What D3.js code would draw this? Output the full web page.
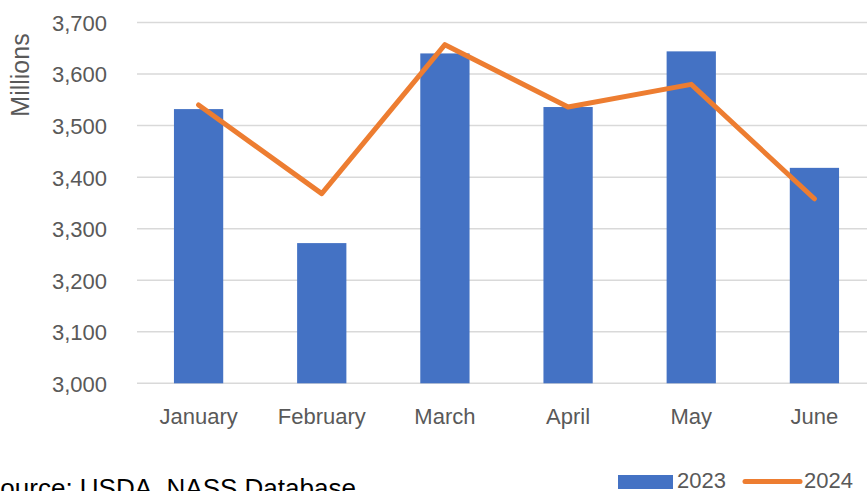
<!DOCTYPE html>
<html><head><meta charset="utf-8">
<script src="https://cdn.jsdelivr.net/npm/d3@7"></script>
<style>html,body{margin:0;padding:0;background:#fff;overflow:hidden}svg{display:block}</style>
</head><body>
<svg id="chart" width="867" height="491"></svg>
<script>
const months = ["January","February","March","April","May","June"];
const values2023 = [3532, 3272, 3640, 3536, 3644, 3418];
const values2024 = [3540, 3368, 3657, 3536, 3580, 3358];
const yTicks = [3000, 3100, 3200, 3300, 3400, 3500, 3600, 3700];
const seriesNames = ["2023", "2024"];
const sourceText = "Source: USDA, NASS Database";
const yTitle = "Millions";

const font = "'Liberation Sans', Arial, sans-serif";
const textColor = "#595959";
const svg = d3.select("#chart");
const plotLeft = 137, plotRight = 876, plotTop = 22.5, plotBottom = 383.3;

const x = d3.scaleBand().domain(months).range([plotLeft, plotRight]).paddingInner(0.6).paddingOuter(0.3);
const y = d3.scaleLinear().domain([3000, 3700]).range([plotBottom, plotTop]);

// gridlines
svg.append("g").selectAll("line").data(yTicks).join("line")
  .attr("x1", plotLeft).attr("x2", 867)
  .attr("y1", d => y(d)).attr("y2", d => y(d))
  .attr("stroke", "#D9D9D9").attr("stroke-width", 1.5);

// y axis labels
const yAxis = d3.axisLeft(y).tickValues(yTicks).tickFormat(d3.format(",")).tickSize(0).tickPadding(0);
const ya = svg.append("g").attr("transform", "translate(107,0)").call(yAxis);
ya.select(".domain").remove();
ya.selectAll("text").attr("font-family", font).attr("font-size", 22).attr("fill", textColor).attr("dy", "0.36em");

// bars
svg.append("g").selectAll("rect").data(values2023).join("rect")
  .attr("x", (d, i) => x(months[i]))
  .attr("width", x.bandwidth())
  .attr("y", d => y(d))
  .attr("height", d => y(3000) - y(d))
  .attr("fill", "#4472C4");

// x axis labels
const xAxis = d3.axisBottom(x).tickSize(0).tickPadding(0);
const xa = svg.append("g").attr("transform", `translate(0,${plotBottom})`).call(xAxis);
xa.select(".domain").remove();
xa.selectAll("text").attr("font-family", font).attr("font-size", 22).attr("fill", textColor)
  .attr("dy", null).attr("y", 41);

// line
const line = d3.line().x((d, i) => x(months[i]) + x.bandwidth() / 2).y(d => y(d));
svg.append("path").datum(values2024).attr("d", line)
  .attr("fill", "none").attr("stroke", "#ED7D31").attr("stroke-width", 5)
  .attr("stroke-linejoin", "round").attr("stroke-linecap", "round");

// y title
svg.append("text").attr("transform", "translate(29,75) rotate(-90)")
  .attr("text-anchor", "middle").attr("font-family", font).attr("font-size", 25)
  .attr("fill", textColor).text(yTitle);

// source
svg.append("text").attr("x", -17).attr("y", 497).attr("font-family", font).attr("font-size", 26)
  .attr("fill", "#000").text(sourceText);

// legend
const lg = svg.append("g");
lg.append("rect").attr("x", 618).attr("y", 475).attr("width", 55).attr("height", 14).attr("fill", "#4472C4");
lg.append("text").attr("x", 677).attr("y", 488).attr("font-family", font).attr("font-size", 22)
  .attr("fill", textColor).text(seriesNames[0]);
lg.append("line").attr("x1", 745).attr("x2", 800).attr("y1", 481.5).attr("y2", 481.5)
  .attr("stroke", "#ED7D31").attr("stroke-width", 5).attr("stroke-linecap", "round");
lg.append("text").attr("x", 804).attr("y", 488).attr("font-family", font).attr("font-size", 22)
  .attr("fill", textColor).text(seriesNames[1]);
</script>
</body></html>
